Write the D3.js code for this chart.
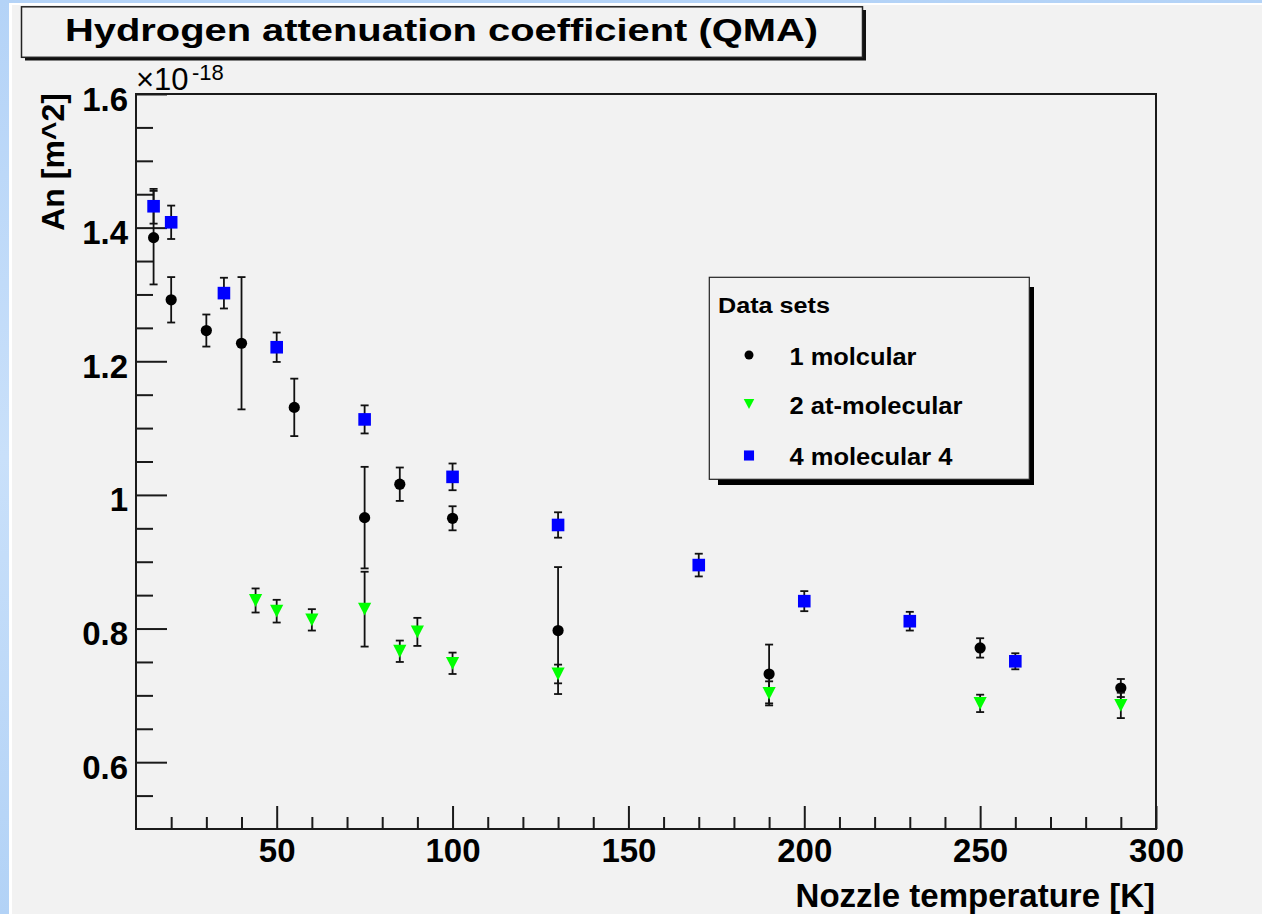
<!DOCTYPE html>
<html>
<head>
<meta charset="utf-8">
<script src="https://cdn.jsdelivr.net/npm/d3@7"></script>
<style>
  html, body { margin: 0; padding: 0; background: #f2f2f2; }
  svg { display: block; }
  text { font-family: "Liberation Sans", Arial, Helvetica, sans-serif; }
</style>
</head>
<body>
<svg id="chart" width="1262" height="914"></svg>
<script>
// ---------------- data ----------------
const seriesNames = ["1 molcular", "2 at-molecular", "4 molecular 4"];

// series 1: molecular (black circles)
const temp1 = [15, 20, 30, 40, 55, 75, 85, 100, 130, 190, 250, 290];
const an1   = [1.385, 1.292, 1.246, 1.227, 1.131, 0.966, 1.016, 0.965, 0.797, 0.732, 0.771, 0.711];
const err1  = [0.070, 0.034, 0.024, 0.099, 0.043, 0.076, 0.025, 0.018, 0.095, 0.044, 0.0145, 0.0135];

// series 2: at-molecular (green triangles)
const temp2 = [44, 50, 60, 75, 85, 90, 100, 130, 190, 250, 290];
const an2   = [0.842, 0.826, 0.813, 0.829, 0.766, 0.795, 0.748, 0.732, 0.703, 0.688, 0.685];
const err2  = [0.018, 0.017, 0.016, 0.056, 0.016, 0.021, 0.016, 0.014, 0.018, 0.013, 0.019];

// series 4: molecular 4 (blue squares)
const temp4 = [15, 20, 35, 50, 75, 100, 130, 170, 200, 230, 260];
const an4   = [1.432, 1.408, 1.302, 1.221, 1.113, 1.027, 0.955, 0.895, 0.841, 0.811, 0.751];
const err4  = [0.026, 0.025, 0.023, 0.022, 0.021, 0.020, 0.019, 0.017, 0.015, 0.014, 0.012];

const xMajorTicks = [50, 100, 150, 200, 250, 300];
const xMinorTicks = [20, 30, 40, 60, 70, 80, 90, 110, 120, 130, 140, 160, 170, 180, 190, 210, 220, 230, 240, 260, 270, 280, 290];
const yMajorTicks = [0.6, 0.8, 1.0, 1.2, 1.4, 1.6];
const yMinorTicks = [0.55, 0.65, 0.7, 0.75, 0.85, 0.9, 0.95, 1.05, 1.1, 1.15, 1.25, 1.3, 1.35, 1.45, 1.5, 1.55];

const titleText = "Hydrogen attenuation coefficient (QMA)";
const xTitle = "Nozzle temperature [K]";
const yTitle = "An [m^2]";
const legendTitle = "Data sets";

// ---------------- drawing ----------------
const svg = d3.select("#chart");
const W = 1262, H = 914;
const FONT = '"Liberation Sans", Arial, Helvetica, sans-serif';

// background frame (blue gradient border + white line + gray canvas)
const defs = svg.append("defs");
const grad = defs.append("linearGradient").attr("id", "bluebg").attr("x1", 0).attr("y1", 0).attr("x2", 0).attr("y2", 1);
grad.append("stop").attr("offset", "0%").attr("stop-color", "#b4d3f7");
grad.append("stop").attr("offset", "50%").attr("stop-color", "#c9e0fa");
grad.append("stop").attr("offset", "100%").attr("stop-color", "#b2d2f6");
svg.append("rect").attr("x", 0).attr("y", 0).attr("width", W).attr("height", H).attr("fill", "url(#bluebg)");
svg.append("rect").attr("x", 9).attr("y", 3).attr("width", W - 9).attr("height", H - 3).attr("fill", "#ffffff");
svg.append("rect").attr("x", 12).attr("y", 5).attr("width", W - 12).attr("height", H - 5).attr("fill", "#f2f2f2");

const x = d3.scaleLinear().domain([10, 300]).range([136, 1156]);
const y = d3.scaleLinear().domain([0.5, 1.6]).range([829, 94]);

// axes
const axisColor = "#1a1a1a";
function styleAxis(g) {
  g.select(".domain").remove();
  g.selectAll(".tick line").attr("stroke", axisColor).attr("stroke-width", 2);
}

svg.append("g").attr("transform", `translate(0,${y(0.5)})`)
  .call(d3.axisBottom(x).tickValues(xMinorTicks).tickSize(-12).tickFormat(""))
  .call(styleAxis);
const gxMaj = svg.append("g").attr("transform", `translate(0,${y(0.5)})`)
  .call(d3.axisBottom(x).tickValues(xMajorTicks).tickSize(-23).tickFormat(d3.format("d")))
  .call(styleAxis);
gxMaj.selectAll(".tick text")
  .attr("y", 33).attr("dy", 0)
  .attr("font-family", FONT).attr("font-size", 33).attr("font-weight", "bold").attr("fill", "#000");

svg.append("g").attr("transform", `translate(${x(10)},0)`)
  .call(d3.axisLeft(y).tickValues(yMinorTicks).tickSize(-17).tickFormat(""))
  .call(styleAxis);
const gyMaj = svg.append("g").attr("transform", `translate(${x(10)},0)`)
  .call(d3.axisLeft(y).tickValues(yMajorTicks).tickSize(-31).tickFormat(d3.format("~g")))
  .call(styleAxis);
gyMaj.selectAll(".tick text")
  .attr("x", -8).attr("dy", 16)
  .attr("font-family", FONT).attr("font-size", 33).attr("font-weight", "bold").attr("fill", "#000");

// frame
svg.append("rect")
  .attr("x", x(10)).attr("y", y(1.6))
  .attr("width", x(300) - x(10)).attr("height", y(0.5) - y(1.6))
  .attr("fill", "none").attr("stroke", axisColor).attr("stroke-width", 2);

// exponent label
const expo = svg.append("text").attr("x", 136).attr("y", 90)
  .attr("font-family", FONT).attr("font-size", 31).attr("fill", "#000");
expo.append("tspan").text("\u00d710");
expo.append("tspan").attr("x", 192).attr("y", 80).attr("font-size", 22).text("-18");

// axis titles
svg.append("text").attr("x", 1155).attr("y", 907)
  .attr("text-anchor", "end")
  .attr("font-family", FONT).attr("font-size", 33).attr("font-weight", "bold").attr("fill", "#000")
  .text(xTitle);
svg.append("text").attr("transform", "translate(64,93) rotate(-90)")
  .attr("text-anchor", "end")
  .attr("font-family", FONT).attr("font-size", 32).attr("font-weight", "bold").attr("fill", "#000")
  .text(yTitle);

// title box with shadow
svg.append("rect").attr("x", 25).attr("y", 10).attr("width", 841).attr("height", 50.5).attr("fill", "#111");
svg.append("rect").attr("x", 21.5).attr("y", 6.8).attr("width", 841).attr("height", 50.5)
  .attr("fill", "#f2f2f2").attr("stroke", "#222").attr("stroke-width", 1.5);
svg.append("text").attr("x", 65).attr("y", 41)
  .attr("font-family", FONT).attr("font-size", 32).attr("font-weight", "bold").attr("fill", "#000")
  .attr("textLength", 753).attr("lengthAdjust", "spacingAndGlyphs")
  .text(titleText);

// markers
function drawSeries(temps, vals, errs, kind, color) {
  const data = temps.map((t, i) => ({ t, v: vals[i], e: errs[i] }));
  const g = svg.append("g");
  const eb = g.append("g").attr("stroke", "#111").attr("stroke-width", 1.8);
  data.forEach(d => {
    const cx = x(d.t), y1 = y(d.v + d.e), y2 = y(d.v - d.e);
    eb.append("line").attr("x1", cx).attr("x2", cx).attr("y1", y1).attr("y2", y2);
    eb.append("line").attr("x1", cx - 4).attr("x2", cx + 4).attr("y1", y1).attr("y2", y1);
    eb.append("line").attr("x1", cx - 4).attr("x2", cx + 4).attr("y1", y2).attr("y2", y2);
  });
  data.forEach(d => drawMarker(g, kind, x(d.t), y(d.v), color, 1));
}

function drawMarker(g, kind, cx, cy, color, s) {
  if (kind === "circle") {
    g.append("circle").attr("cx", cx).attr("cy", cy).attr("r", 5.6 * s).attr("fill", color);
  } else if (kind === "square") {
    const h = 6.3 * s;
    g.append("rect").attr("x", cx - h).attr("y", cy - h).attr("width", 2 * h).attr("height", 2 * h).attr("fill", color);
  } else {
    const w = 6.6 * s, hh = 6.4 * s;
    g.append("path").attr("d", `M${cx - w},${cy - hh}L${cx + w},${cy - hh}L${cx},${cy + hh}Z`).attr("fill", color);
  }
}

drawSeries(temp1, an1, err1, "circle", "#000000");
drawSeries(temp2, an2, err2, "triangle", "#00ff00");
drawSeries(temp4, an4, err4, "square", "#0000ff");

// legend
const lg = svg.append("g");
lg.append("rect").attr("x", 718).attr("y", 287).attr("width", 316).attr("height", 198).attr("fill", "#000");
lg.append("rect").attr("x", 709.3).attr("y", 277.3).attr("width", 320).attr("height", 202)
  .attr("fill", "#f2f2f2").attr("stroke", "#222").attr("stroke-width", 1.2);
lg.append("text").attr("x", 718).attr("y", 313)
  .attr("font-family", FONT).attr("font-size", 22).attr("font-weight", "bold").attr("fill", "#000")
  .attr("textLength", 112).attr("lengthAdjust", "spacingAndGlyphs")
  .text(legendTitle);
const legendKinds = ["circle", "triangle", "square"];
const legendColors = ["#000000", "#00ff00", "#0000ff"];
const legendRowY = [355, 404, 455.5];
const legendWidths = [127, 173, 163];
seriesNames.forEach((name, i) => {
  drawMarker(lg, legendKinds[i], 749, legendRowY[i], legendColors[i], 0.8);
  lg.append("text").attr("x", 789.5).attr("y", legendRowY[i] + 9.5)
    .attr("font-family", FONT).attr("font-size", 23).attr("font-weight", "bold").attr("fill", "#000")
    .attr("textLength", legendWidths[i]).attr("lengthAdjust", "spacingAndGlyphs")
    .text(name);
});
</script>
</body>
</html>
